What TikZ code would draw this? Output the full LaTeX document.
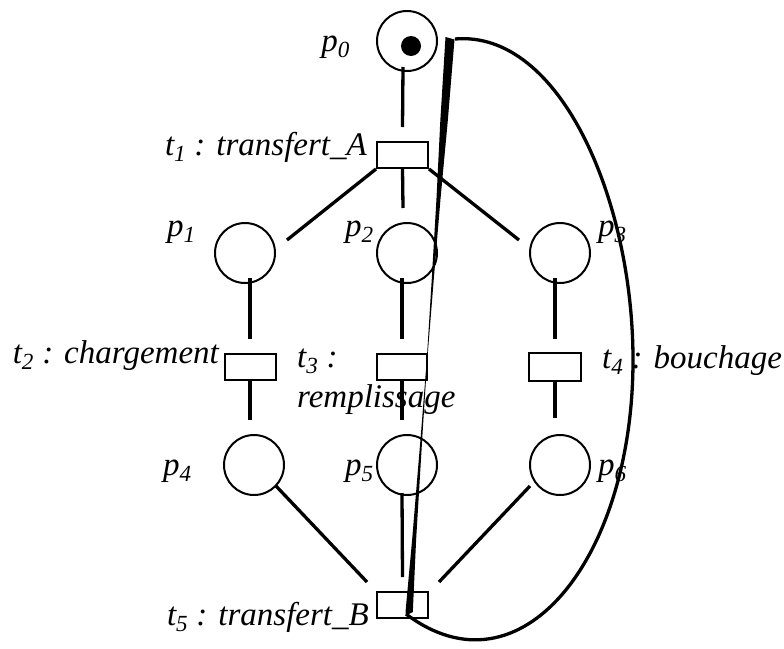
\documentclass[tikz,border=0pt]{standalone}
\usepackage{fontspec}
\setmainfont{Liberation Serif}
\begin{document}
\begin{tikzpicture}[x=1pt,y=-1pt,
  place/.style={circle,draw,line width=2pt,minimum size=60pt,inner sep=0pt},
  trans/.style={rectangle,draw,line width=2pt,minimum width=51pt,minimum height=26pt,inner sep=0pt},
  arcline/.style={line width=3.3pt},
  loopline/.style={line width=3.3pt},
  lab/.style={inner sep=0pt,font=\fontsize{33}{38}\selectfont\itshape}]
\useasboundingbox (0,0) rectangle (784,648);
% places
\node[place] (p0) at (407,41) {};
\node[place] (p1) at (245,253) {};
\node[place] (p2) at (407,253) {};
\node[place] (p3) at (560,253) {};
\node[place] (p4) at (254,465) {};
\node[place] (p5) at (407,465) {};
\node[place] (p6) at (560,465) {};
\fill ([shift={(4,5)}]p0.center) circle[radius=10];
% transitions
\node[trans] (t1) at (402.5,155) {};
\node[trans] (t2) at (250,367) {};
\node[trans,minimum width=50pt] (t3) at (402,367) {};
\node[trans,minimum width=52pt,minimum height=28pt] (t4) at (555,367) {};
\node[trans] (t5) at (402.5,605) {};
% connectors
\draw[arcline] ([shift={(-4,26)}]p0.center) -- ([shift={(0,-14)}]t1.north);
\draw[arcline] (t1.south west) -- ([shift={(42,-13)}]p1.center);
\draw[arcline] (t1.south) -- ([shift={(-4,-45)}]p2.center);
\draw[arcline] (t1.south east) -- ([shift={(-41,-13)}]p3.center);
\draw[arcline] ([shift={(5,25)}]p1.center) -- ([shift={(0,-14)}]t2.north);
\draw[arcline] ([shift={(-5,25)}]p2.center) -- ([shift={(0,-14)}]t3.north);
\draw[arcline] ([shift={(-5,25)}]p3.center) -- ([shift={(0,-13)}]t4.north);
\draw[arcline] (t2.south) -- ([shift={(-4,-45)}]p4.center);
\draw[arcline] (t3.south) -- ([shift={(-5,-45)}]p5.center);
\draw[arcline] (t4.south) -- ([shift={(-5,-47)}]p6.center);
\draw[arcline] ([shift={(22,21)}]p4.center) -- ([shift={(-9,-9)}]t5.north west);
\draw[arcline] ([shift={(-5,28)}]p5.center) -- ([shift={(0,-14)}]t5.north);
\draw[arcline] ([shift={(-30,21)}]p6.center) -- ([shift={(10,-9)}]t5.north east);
% loop from t5 back to p0
\coordinate (ltop) at ([shift={(48,-2)}]p0.center);
\coordinate (lbot) at ([shift={(3.5,9)}]t5.center);
\fill (445.5,37) -- (454.5,39.5) -- (447.85,120) -- (440.4,200) -- (433.7,280)
  -- (427.25,360) -- (422.75,430) -- (416.1,540) -- (412.8,612) -- (406,615.5)
  -- (405.5,612) -- (412.1,540) -- (421.25,430) -- (426.75,360) -- (431.7,280)
  -- (436.4,200) -- (440.35,120) -- cycle;
\draw[loopline] (ltop) .. controls (560,30) and (633,200) .. (633,360)
  .. controls (633,560) and (520,700) .. (lbot);
% labels
\node[lab,anchor=base east] (lp0) at (350,51) {p\textsubscript{0}};
\node[lab,anchor=base west] (lp1) at (167,236) {p\textsubscript{1}};
\node[lab,anchor=base west] (lp2) at (345,236) {p\textsubscript{2}};
\node[lab,anchor=base west] (lp3) at (598,236) {p\textsubscript{3}};
\node[lab,anchor=base west] (lp4) at (163,475) {p\textsubscript{4}};
\node[lab,anchor=base west] (lp5) at (345,475) {p\textsubscript{5}};
\node[lab,anchor=base west] (lp6) at (598,475) {p\textsubscript{6}};
\node[lab,anchor=base east] (lt1) at (367,155) {t\textsubscript{1} : transfert\_A};
\node[lab,anchor=base east] (lt2) at (219,363) {t\textsubscript{2} : chargement};
\node[lab,anchor=base west] (lt3a) at (297,367) {t\textsubscript{3} :};
\node[lab,anchor=base west] (lt3b) at (297,407) {remplissage};
\node[lab,anchor=base west] (lt4) at (602,368) {t\textsubscript{4} : bouchage};
\node[lab,anchor=base east] (lt5) at (369,625) {t\textsubscript{5} : transfert\_B};
\end{tikzpicture}
\end{document}
